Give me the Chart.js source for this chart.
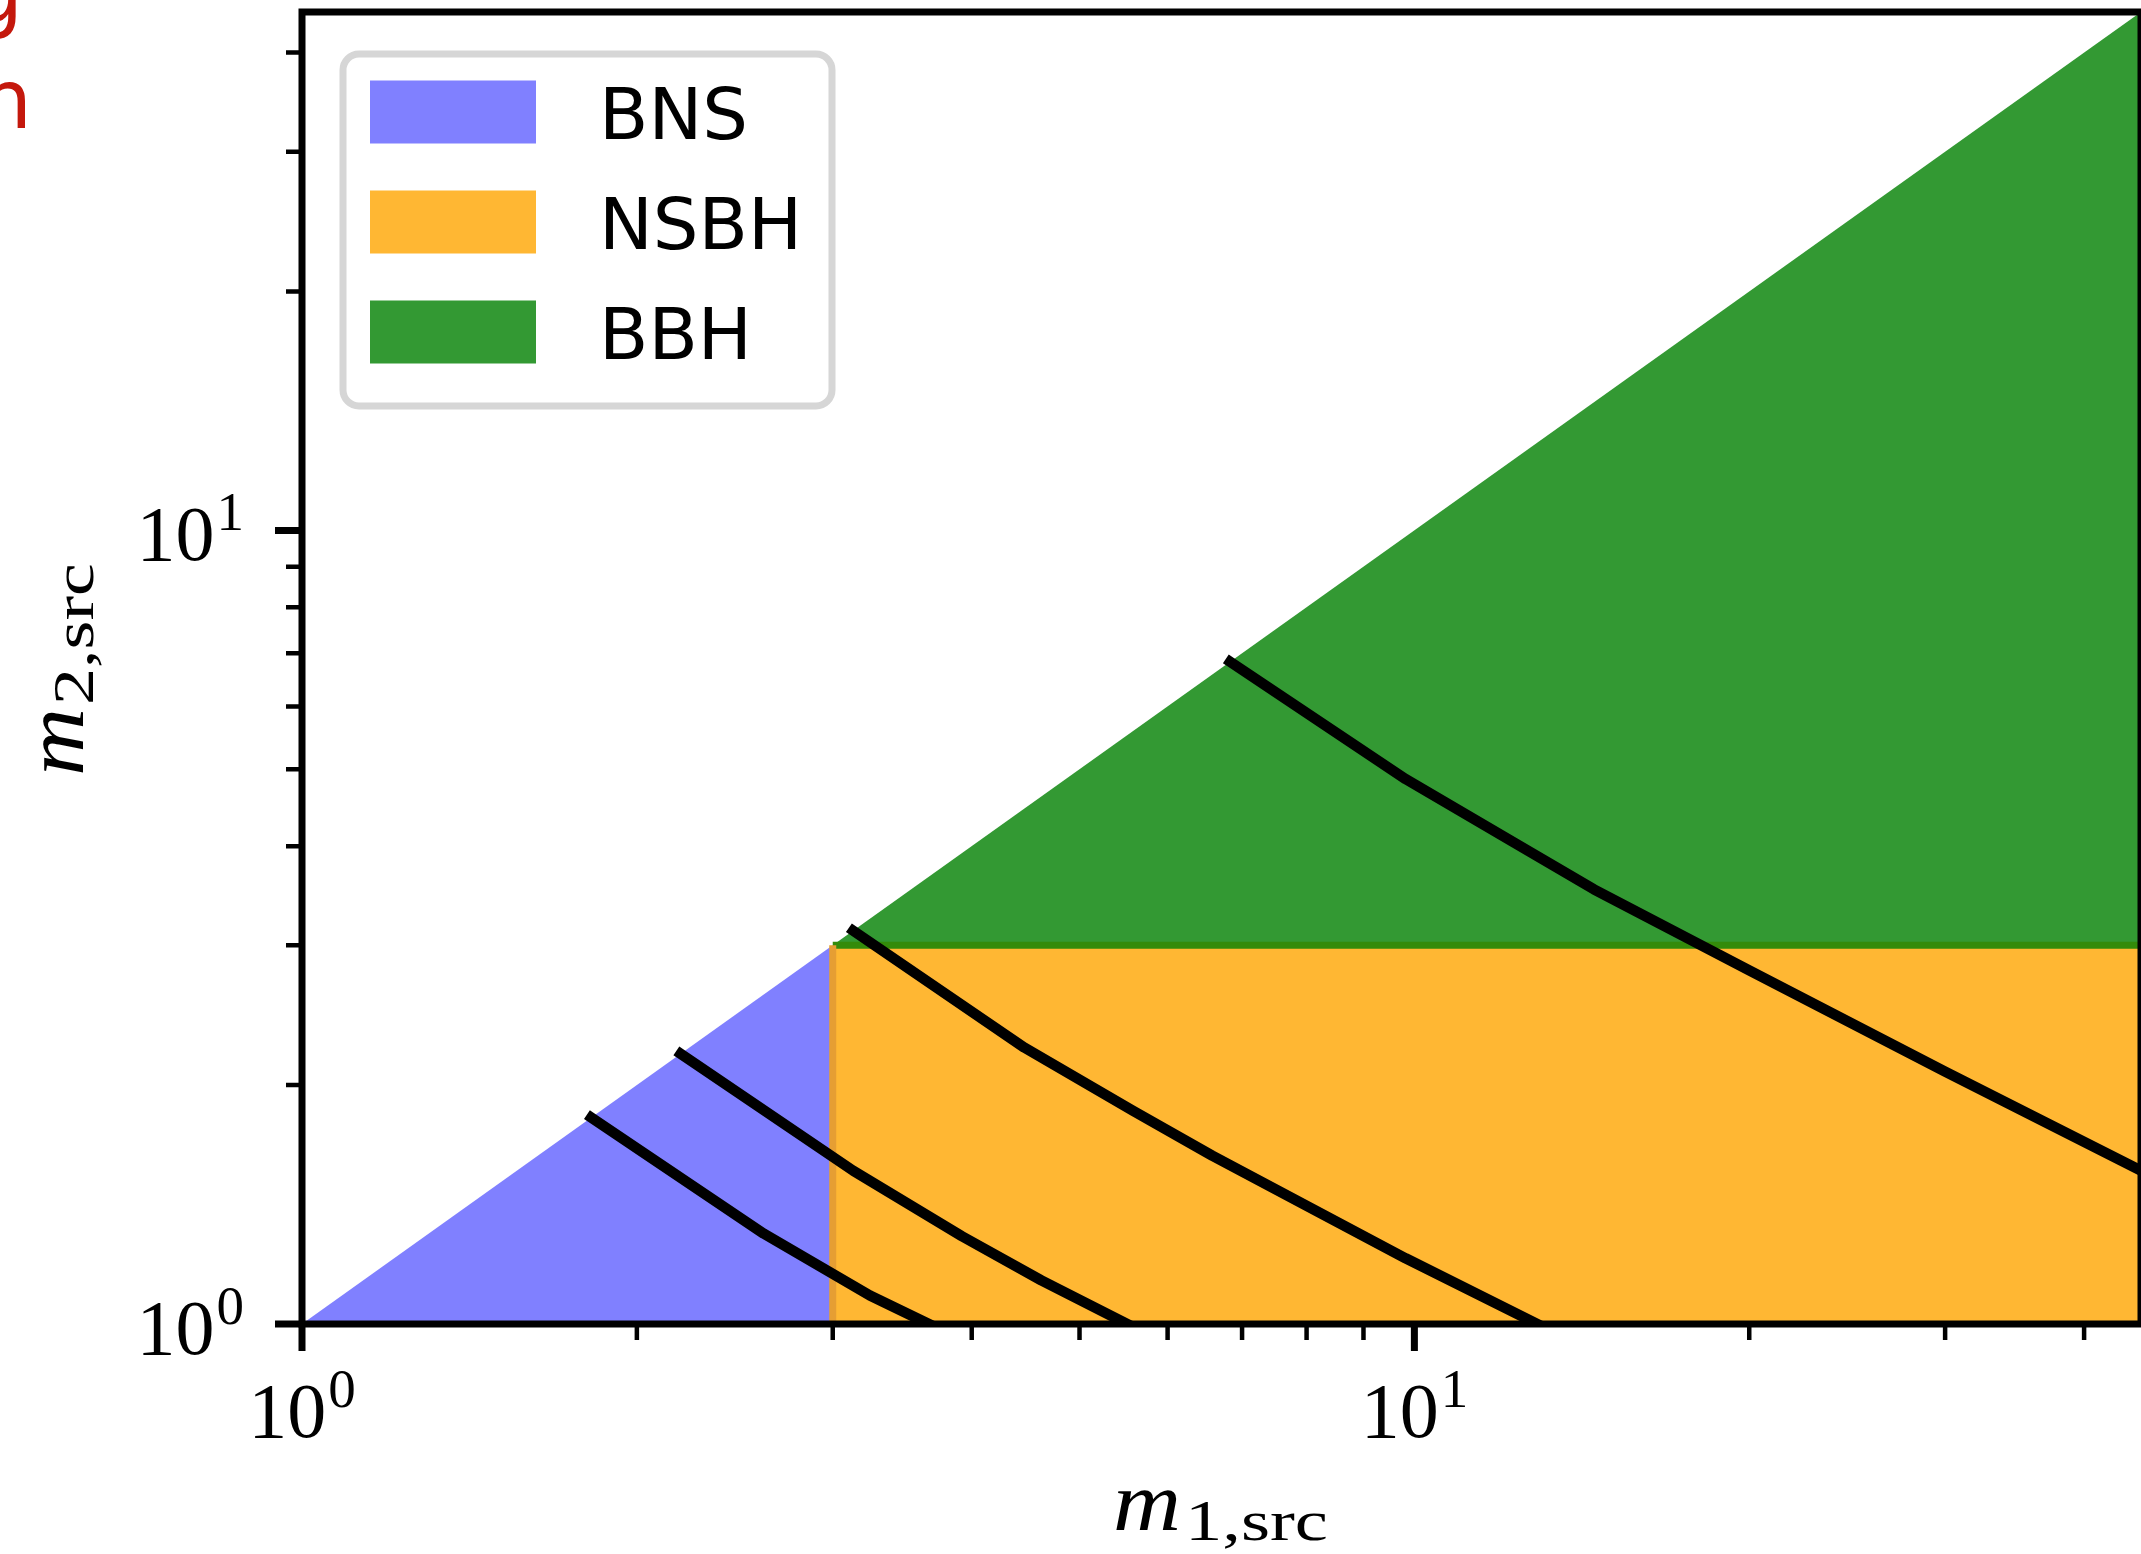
<!DOCTYPE html>
<html>
<head>
<meta charset="utf-8">
<script src="https://cdn.jsdelivr.net/npm/chart.js@4.4.1/dist/chart.umd.min.js"></script>
<style>
body { margin: 0; background: #fff; }
#wrap { width: 2141px; height: 1554px; position: relative; }
</style>
</head>
<body>
<div id="wrap"><canvas id="chart"></canvas></div>
<script>
// axis range in solar masses
var massMin = 1;
var massMax = 45;
// max neutron star mass, splits the classes
var nsMax = 3;

var classLabels = ['BNS', 'NSBH', 'BBH'];

// constant chirp mass tracks (m1, m2)
var trackA_m1 = [1.82, 2.60, 3.24, 3.66];
var trackA_m2 = [1.82, 1.30, 1.086, 1.00];
var trackB_m1 = [2.19, 3.13, 3.92, 4.62, 5.52];
var trackB_m2 = [2.19, 1.56, 1.29, 1.135, 1.00];
var trackC_m1 = [3.13, 4.46, 5.59, 6.58, 9.82, 12.9];
var trackC_m2 = [3.13, 2.23, 1.855, 1.63, 1.21, 1.00];
var trackD_m1 = [6.83, 9.82, 12.3, 14.5, 20, 30, 45];
var trackD_m2 = [6.83, 4.86, 4.04, 3.53, 2.79, 2.08, 1.56];

// ticks
var majorTicks = [1, 10];
var minorTicks = [2, 3, 4, 5, 6, 7, 8, 9, 20, 30, 40];

var blue = '#8080ff', orange = '#ffb733', green = '#339933';

function pts(xs, ys) {
    return xs.map(function (x, i) { return {x: x, y: ys[i]}; });
}

function track(xs, ys) {
    return {
        data: pts(xs, ys), borderColor: '#000', borderWidth: 10.5,
        borderCapStyle: 'square', borderJoinStyle: 'round',
        pointRadius: 0, fill: false, order: 0
    };
}

var SERIF = '"Liberation Serif", "Times New Roman", serif';

function drawFit(ctx, text, x, y, w) {
    var nw = ctx.measureText(text).width;
    ctx.save();
    ctx.translate(x, y);
    ctx.scale(w / nw, 1);
    ctx.fillText(text, 0, 0);
    ctx.restore();
}

function drawPow(ctx, exp, x, y, align) {
    ctx.font = '78px ' + SERIF;
    var wb = ctx.measureText('10').width;
    ctx.font = '55px ' + SERIF;
    var we = ctx.measureText(String(exp)).width;
    var total = wb + 2 + we;
    var left = align == 'center' ? x - total / 2 : x - total;
    ctx.font = '78px ' + SERIF;
    ctx.fillText('10', left, y);
    ctx.font = '55px ' + SERIF;
    ctx.fillText(String(exp), left + wb + 2, y - 30);
}

var decor = {
    id: 'decor',
    beforeDraw: function (chart) {
        var ctx = chart.ctx;
        ctx.save();
        ctx.fillStyle = '#fff';
        ctx.fillRect(0, 0, chart.width, chart.height);
        ctx.restore();
    },
    afterDraw: function (chart) {
        var ctx = chart.ctx, a = chart.chartArea;
        var xs = chart.scales.x, ys = chart.scales.y;
        ctx.save();

        // legend
        var lx = a.left + 41, ly = a.top + 42, lw = 489, lh = 352;
        ctx.lineWidth = 7;
        ctx.strokeStyle = '#d6d6d6';
        ctx.fillStyle = '#fff';
        ctx.beginPath();
        ctx.roundRect(lx, ly, lw, lh, 16);
        ctx.fill();
        ctx.stroke();
        ctx.font = '72px "DejaVu Sans"';
        ctx.textBaseline = 'alphabetic';
        for (var i = 0; i < classLabels.length; i++) {
            var cy = ly + 58 + i * 110;
            ctx.fillStyle = chart.data.datasets[i].backgroundColor;
            ctx.fillRect(lx + 27, cy - 31.5, 166, 63);
            ctx.fillStyle = '#000';
            ctx.fillText(classLabels[i], lx + 256, cy + 27);
        }

        // frame
        ctx.strokeStyle = '#000';
        ctx.lineWidth = 7;
        ctx.strokeRect(a.left, a.top, a.right - a.left, a.bottom - a.top);

        // ticks
        function tick(v, len, w) {
            var px = xs.getPixelForValue(v), py = ys.getPixelForValue(v);
            ctx.lineWidth = w;
            ctx.beginPath();
            ctx.moveTo(px, a.bottom); ctx.lineTo(px, a.bottom + len);
            ctx.moveTo(a.left, py); ctx.lineTo(a.left - len, py);
            ctx.stroke();
        }
        majorTicks.forEach(function (v) { tick(v, 27, 7); });
        minorTicks.forEach(function (v) { tick(v, 16, 4.5); });

        // tick labels
        ctx.fillStyle = '#000';
        majorTicks.forEach(function (v) {
            var e = Math.round(Math.log10(v));
            drawPow(ctx, e, xs.getPixelForValue(v), a.bottom + 113, 'center');
            drawPow(ctx, e, a.left - 58, ys.getPixelForValue(v) + 30, 'right');
        });

        // axis titles
        ctx.font = 'italic 84px ' + SERIF;
        drawFit(ctx, 'm', 1113, 1530, 68);
        ctx.font = '57px ' + SERIF;
        drawFit(ctx, '1,src', 1185, 1540, 143);

        ctx.save();
        ctx.translate(83, 776);
        ctx.rotate(-Math.PI / 2);
        ctx.font = 'italic 84px ' + SERIF;
        drawFit(ctx, 'm', 0, 0, 68);
        ctx.font = '57px ' + SERIF;
        drawFit(ctx, '2,src', 71, 10, 142);
        ctx.restore();

        // cut-off caption letters from the neighbouring panel
        ctx.fillStyle = '#c4180c';
        ctx.font = '82px "DejaVu Sans"';
        ctx.fillText('g', -29, 22);
        ctx.fillText('n', -20, 128);

        ctx.restore();
    }
};

var ctx = document.getElementById('chart');
var chart = new Chart(ctx, {
    type: 'line',
    data: {
        datasets: [
            {label: classLabels[0], data: pts([massMin, nsMax], [massMin, nsMax]),
             backgroundColor: blue, borderWidth: 0, pointRadius: 0, fill: 'start', order: 4},
            {label: classLabels[1], data: pts([nsMax, massMax], [nsMax, nsMax]),
             backgroundColor: orange, borderWidth: 0, pointRadius: 0, fill: 'start', order: 4},
            {label: classLabels[2], data: pts([nsMax, massMax], [nsMax, massMax]),
             backgroundColor: green, borderWidth: 0, pointRadius: 0, fill: {value: nsMax}, order: 4},
            // overlap seams between the class patches
            {data: pts([nsMax, nsMax], [massMin, nsMax]), borderColor: '#e69e33',
             borderWidth: 7, pointRadius: 0, fill: false, order: 2},
            {data: pts([nsMax, massMax], [nsMax, nsMax]), borderColor: '#338b0a',
             borderWidth: 7, pointRadius: 0, fill: false, order: 2},
            track(trackA_m1, trackA_m2),
            track(trackB_m1, trackB_m2),
            track(trackC_m1, trackC_m2),
            track(trackD_m1, trackD_m2)
        ]
    },
    options: {
        responsive: true,
        maintainAspectRatio: false,
        devicePixelRatio: 1,
        animation: false,
        events: [],
        layout: {padding: {left: 302, right: 0, top: 12, bottom: 230}},
        scales: {
            x: {type: 'logarithmic', min: massMin, max: massMax, display: false},
            y: {type: 'logarithmic', min: massMin, max: massMax, display: false}
        },
        plugins: {legend: {display: false}, tooltip: {enabled: false}}
    },
    plugins: [decor]
});
</script>
</body>
</html>
